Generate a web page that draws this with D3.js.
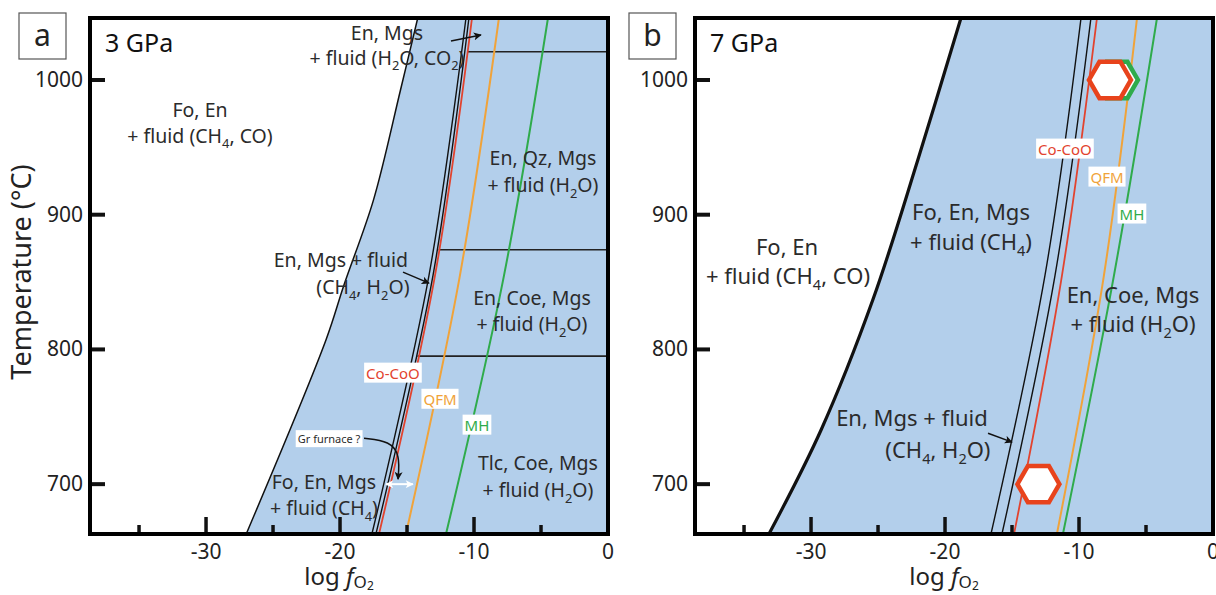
<!DOCTYPE html>
<html><head><meta charset="utf-8">
<script src="https://cdn.jsdelivr.net/npm/d3@7"></script>
<style>body{margin:0;background:#fff;} text{font-family:"Noto Sans",sans-serif;}</style>
</head><body><svg id="c" width="1216" height="595"></svg>
<script>
// ---------------- data ----------------
const tempTicks = [700, 800, 900, 1000];
const fo2MajorTicks = [-30, -20, -10, 0];
const fo2MinorTicks = [-35, -25, -15, -5];
const tempDomain = [663, 1046];
const fo2Domain = [-38.66, 0];
const lineTemps = [663, 855, 1046];          // temperatures at which the curves were read

// Panel a — 3 GPa
const aBoundaryT = [663, 807, 848, 911, 992, 1046];
const aBoundaryX = [-27.0, -21.05, -19.7, -17.5, -15.5, -14.2];
const aBlackA = [-17.62, -13.36, -10.60];
const aBlackB = [-17.32, -13.06, -10.38];
const aCoCoO  = [-17.09, -12.91, -10.15];
const aQFM    = [-15.08, -11.05, -8.14];
const aMH     = [-12.09, -7.76, -4.48];
const aHorizontalT = [1021, 874, 795];

// Panel b — 7 GPa
const bBoundaryT = [663, 740, 837, 941, 1046];
const bBoundaryX = [-33.14, -29.26, -25.38, -22.02, -18.81];
const bBlackA = [-16.57, -12.54, -9.85];
const bBlackB = [-15.75, -11.79, -9.11];
const bCoCoO  = [-14.85, -11.27, -8.66];
const bQFM    = [-11.65, -8.14, -5.67];
const bMH     = [-11.20, -7.39, -4.18];
const bHexX = [-7.17, -7.69, -13.03];
const bHexT = [1000, 1000, 700];
const bHexKind = ["MH", "CoCoO", "CoCoO"];

// text labels (x = log fO2, T = temperature)
const aLabels = [
  ["Fo, En", -30.45, 977.7], ["+ fluid (CH_4, CO)", -30.45, 958.4],
  ["En, Mgs", -16.5, 1034.9], ["+ fluid (H_2O, CO_2)", -16.5, 1016.3],
  ["En, Qz, Mgs", -4.85, 942], ["+ fluid (H_2O)", -4.85, 922],
  ["En, Mgs + fluid", -19.93, 866.3], ["(CH_4, H_2O)", -18.29, 846.3],
  ["En, Coe, Mgs", -5.67, 838], ["+ fluid (H_2O)", -5.67, 818.8],
  ["Tlc, Coe, Mgs", -5.23, 715.6], ["+ fluid (H_2O)", -5.23, 695.5],
  ["Fo, En, Mgs", -21.2, 701.5], ["+ fluid (CH_4)", -21.2, 682]
];
const bLabels = [
  ["Fo, En", -31.79, 876], ["+ fluid (CH_4, CO)", -31.72, 854.4],
  ["Fo, En, Mgs", -18.06, 902], ["+ fluid (CH_4)", -18.06, 879.7],
  ["En, Coe, Mgs", -5.97, 840.3], ["+ fluid (H_2O)", -5.97, 818.8],
  ["En, Mgs + fluid", -22.47, 749], ["(CH_4, H_2O)", -20.53, 725.2]
];
const bufferNames = ["Co-CoO", "QFM", "MH"];
const aBufferLabelX = [-16.05, -12.54, -9.78];
const aBufferLabelT = [782.4, 763, 743.8];
const bBufferLabelX = [-11.05, -7.91, -6.05];
const bBufferLabelT = [948.7, 927.9, 900.5];

// ---------------- style ----------------
const BLUE = "#b3cfeb", RED = "#e2432e", ORANGE = "#f0a33a", GREEN = "#2fab4b", HEXRED = "#e8431c";
const TXT = "#2b2b2b";
const plotTop = 18, plotBottom = 534;

const svg = d3.select("#c");
const defs = svg.append("defs");
function marker(id, color, orient) {
  defs.append("marker").attr("id", id).attr("viewBox", "0 0 10 10")
    .attr("refX", 9).attr("refY", 5).attr("markerUnits", "userSpaceOnUse")
    .attr("markerWidth", 9).attr("markerHeight", 8).attr("orient", orient)
    .append("path").attr("d", "M0,0 L10,5 L0,10 L2.5,5 z").attr("fill", color);
}
marker("arrK", "#111", "auto");
marker("arrW", "#fff", "auto");
marker("arrWs", "#fff", "auto-start-reverse");

function rich(sel, str, fs) {
  const parts = str.split(/(_\d)/);
  let sub = false;
  parts.forEach(p => {
    if (!p) return;
    if (p[0] === "_") {
      sel.append("tspan").attr("dy", fs * 0.28).attr("font-size", fs * 0.66).text(p.slice(1));
      sub = true;
    } else {
      const t = sel.append("tspan").text(p);
      if (sub) { t.attr("dy", -fs * 0.28); sub = false; }
    }
  });
}

const panels = [
  { key: "a", left: 90, right: 608, letterX: 19, pressure: "3 GPa",
    boundaryT: aBoundaryT, boundaryX: aBoundaryX, boundaryW: 1.5,
    blacks: [aBlackA, aBlackB], co: aCoCoO, qfm: aQFM, mh: aMH,
    labels: aLabels, fs: 19.5, bufX: aBufferLabelX, bufT: aBufferLabelT },
  { key: "b", left: 695, right: 1213, letterX: 629, pressure: "7 GPa",
    boundaryT: bBoundaryT, boundaryX: bBoundaryX, boundaryW: 3.2,
    blacks: [bBlackA, bBlackB], co: bCoCoO, qfm: bQFM, mh: bMH,
    labels: bLabels, fs: 22, bufX: bBufferLabelX, bufT: bBufferLabelT }
];

panels.forEach((P, pi) => {
  const x = d3.scaleLinear().domain(fo2Domain).range([P.left, P.right]);
  const y = d3.scaleLinear().domain(tempDomain).range([plotBottom, plotTop]);
  const g = svg.append("g");
  const clipId = "clip" + P.key;
  defs.append("clipPath").attr("id", clipId).append("rect")
    .attr("x", P.left).attr("y", plotTop).attr("width", P.right - P.left).attr("height", plotBottom - plotTop);
  const inner = g.append("g").attr("clip-path", `url(#${clipId})`);

  // blue field
  const bnd = P.boundaryT.map((t, i) => ({ T: t, x: P.boundaryX[i] }));
  inner.append("path").datum(bnd)
    .attr("d", d3.area().curve(d3.curveCatmullRom).y(d => y(d.T)).x0(d => x(d.x)).x1(x(0) + 5))
    .attr("fill", BLUE);
  inner.append("path").datum(bnd)
    .attr("d", d3.line().curve(d3.curveCatmullRom).y(d => y(d.T)).x(d => x(d.x)))
    .attr("fill", "none").attr("stroke", "#111").attr("stroke-width", P.boundaryW);

  const lineGen = d3.line().curve(d3.curveCatmullRom).y(d => y(d.T)).x(d => x(d.x));
  const pts = arr => lineTemps.map((t, i) => ({ T: t, x: arr[i] }));

  // horizontal reaction lines (panel a)
  if (P.key === "a") {
    const coAt = d3.scaleLinear().domain(lineTemps).range(P.co);
    aHorizontalT.forEach(t => {
      inner.append("line").attr("x1", x(coAt(t))).attr("x2", x(0)).attr("y1", y(t)).attr("y2", y(t))
        .attr("stroke", "#222").attr("stroke-width", 1.6);
    });
  }
  // buffers and boundaries
  inner.append("path").datum(pts(P.mh)).attr("d", lineGen).attr("fill", "none").attr("stroke", GREEN).attr("stroke-width", 2);
  inner.append("path").datum(pts(P.qfm)).attr("d", lineGen).attr("fill", "none").attr("stroke", ORANGE).attr("stroke-width", 2);
  inner.append("path").datum(pts(P.co)).attr("d", lineGen).attr("fill", "none").attr("stroke", RED).attr("stroke-width", 1.8);
  P.blacks.forEach(b => inner.append("path").datum(pts(b)).attr("d", lineGen)
    .attr("fill", "none").attr("stroke", "#111").attr("stroke-width", 1.4));

  // hexagons (panel b)
  if (P.key === "b") {
    const R = 21;
    bHexX.forEach((hx, i) => {
      const cx = x(hx), cy = y(bHexT[i]);
      const poly = d3.range(6).map(k => [cx + R * Math.cos(k * Math.PI / 3), cy + R * Math.sin(k * Math.PI / 3)]);
      inner.append("polygon").attr("points", poly.map(p => p.join(",")).join(" "))
        .attr("fill", "#fff").attr("stroke", bHexKind[i] === "MH" ? GREEN : HEXRED).attr("stroke-width", 4.5);
    });
  }

  // buffer labels with white boxes
  const bufColors = [RED, ORANGE, GREEN];
  bufferNames.forEach((n, i) => {
    const t = g.append("text").attr("x", x(P.bufX[i])).attr("y", y(P.bufT[i]) + 5.5)
      .attr("text-anchor", "middle").attr("font-size", 15).attr("fill", bufColors[i]).text(n);
    const bb = t.node().getBBox();
    g.insert("rect", () => t.node()).attr("x", bb.x - 2).attr("y", bb.y).attr("width", bb.width + 4).attr("height", bb.height)
      .attr("fill", "#fff");
  });

  // field labels
  P.labels.forEach(L => {
    const t = g.append("text").attr("x", x(L[1])).attr("y", y(L[2]) + P.fs * 0.36)
      .attr("text-anchor", "middle").attr("font-size", P.fs).attr("fill", TXT);
    rich(t, L[0], P.fs);
  });

  // arrows
  if (P.key === "a") {
    g.append("line").attr("x1", x(-11.72)).attr("y1", y(1028.9)).attr("x2", x(-9.48)).attr("y2", y(1033.4))
      .attr("stroke", "#111").attr("stroke-width", 1.5).attr("marker-end", "url(#arrK)");
    g.append("line").attr("x1", x(-15.3)).attr("y1", y(857.4)).attr("x2", x(-13.36)).attr("y2", y(849.2))
      .attr("stroke", "#111").attr("stroke-width", 1.5).attr("marker-end", "url(#arrK)");
    // Gr furnace label and curved arrow
    const gt = g.append("text").attr("x", x(-20.82)).attr("y", y(733.4) + 4).attr("text-anchor", "middle")
      .attr("font-size", 11).attr("fill", TXT).text("Gr furnace ?");
    const bb = gt.node().getBBox();
    g.insert("rect", () => gt.node()).attr("x", bb.x - 2).attr("y", bb.y - 1).attr("width", bb.width + 4).attr("height", bb.height + 2).attr("fill", "#fff");
    const cp = [[-18.21, 734.1], [-16.27, 731.9], [-15.53, 721.5], [-15.67, 703.7]];
    g.append("path").datum(cp).attr("d", d3.line().curve(d3.curveBasis).x(d => x(d[0])).y(d => y(d[1])))
      .attr("fill", "none").attr("stroke", "#111").attr("stroke-width", 1.5).attr("marker-end", "url(#arrK)");
    g.append("line").attr("x1", x(-16.57)).attr("y1", y(700)).attr("x2", x(-14.56)).attr("y2", y(700))
      .attr("stroke", "#fff").attr("stroke-width", 2).attr("marker-end", "url(#arrW)").attr("marker-start", "url(#arrWs)");
  } else {
    g.append("line").attr("x1", x(-16.79)).attr("y1", y(737.8)).attr("x2", x(-15.0)).attr("y2", y(731.2))
      .attr("stroke", "#111").attr("stroke-width", 1.5).attr("marker-end", "url(#arrK)");
  }

  // pressure label
  g.append("text").attr("x", P.left + 15).attr("y", plotTop + 34).attr("font-size", 25).attr("fill", "#111").text(P.pressure);

  // ticks
  tempTicks.forEach(t => {
    g.append("line").attr("x1", P.left).attr("x2", P.left + 15).attr("y1", y(t)).attr("y2", y(t))
      .attr("stroke", "#111").attr("stroke-width", 4);
    g.append("text").attr("x", P.left - 7).attr("y", y(t) + 7).attr("text-anchor", "end")
      .attr("font-size", 21).attr("fill", "#222").text(t);
  });
  fo2MajorTicks.forEach(v => {
    if (v !== 0) g.append("line").attr("x1", x(v)).attr("x2", x(v)).attr("y1", plotBottom).attr("y2", plotBottom - 17)
      .attr("stroke", "#111").attr("stroke-width", 3.5);
    g.append("text").attr("x", x(v)).attr("y", plotBottom + 25).attr("text-anchor", "middle")
      .attr("font-size", 21).attr("fill", "#222").text(v);
  });
  fo2MinorTicks.forEach(v => {
    g.append("line").attr("x1", x(v)).attr("x2", x(v)).attr("y1", plotBottom).attr("y2", plotBottom - 9)
      .attr("stroke", "#111").attr("stroke-width", 3.5);
  });

  // frame
  g.append("rect").attr("x", P.left).attr("y", plotTop).attr("width", P.right - P.left).attr("height", plotBottom - plotTop)
    .attr("fill", "none").attr("stroke", "#000").attr("stroke-width", 4);

  // panel letter
  g.append("rect").attr("x", P.letterX).attr("y", 13).attr("width", 47).attr("height", 46)
    .attr("fill", "#fff").attr("stroke", "#555").attr("stroke-width", 1.2);
  g.append("text").attr("x", P.letterX + 23.5).attr("y", 46).attr("text-anchor", "middle")
    .attr("font-size", 30).attr("fill", "#222").text(P.key);

  // x title
  const xt = g.append("text").attr("x", (P.left + P.right) / 2 - 10).attr("y", 585)
    .attr("text-anchor", "middle").attr("font-size", 24).attr("fill", "#222");
  xt.append("tspan").text("log ");
  xt.append("tspan").attr("font-style", "italic").text("f");
  xt.append("tspan").attr("dy", 3).attr("font-size", 17).text("O");
  xt.append("tspan").attr("dy", 2).attr("font-size", 12).text("2");
});

// y title
svg.append("text").attr("transform", "translate(31,272) rotate(-90)").attr("text-anchor", "middle")
  .attr("font-size", 27).attr("fill", "#222").text("Temperature (°C)");
</script></body></html>
